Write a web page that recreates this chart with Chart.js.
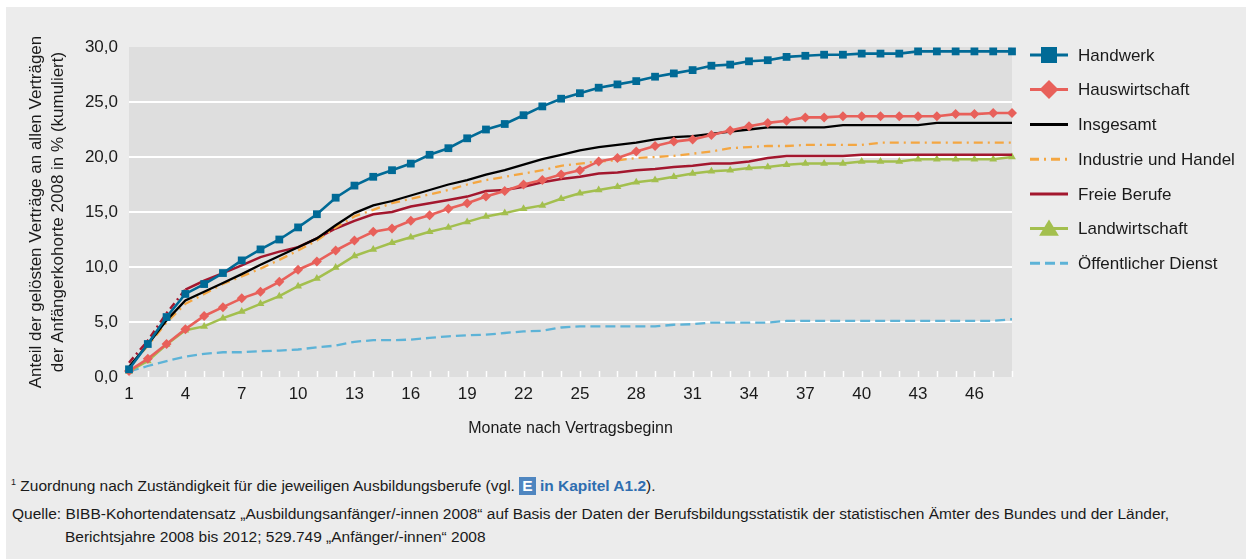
<!DOCTYPE html>
<html>
<head>
<meta charset="utf-8">
<script src="https://cdn.jsdelivr.net/npm/chart.js@4.4.1/dist/chart.umd.min.js"></script>
<style>
  html, body { margin:0; padding:0; background:#ffffff; }
  body { width:1246px; height:559px; position:relative; overflow:hidden; font-family:"Liberation Sans", Arial, sans-serif; color:#1a1a1a; }
  #panel { position:absolute; left:6px; top:7px; width:1240px; height:552px; background:#ececec; }
  #wrap { position:absolute; left:0; top:0; width:1246px; height:450px; }
  .note { position:absolute; font-size:15.5px; white-space:nowrap; line-height:19px; }
  .ebox { display:inline-block; background:#4f86c0; color:#fff; font-weight:bold; padding:0 3px; line-height:18px; }
  .blue { color:#2f6eb0; font-weight:bold; }
</style>
</head>
<body>
<div id="panel"></div>
<div id="wrap"><canvas id="c" width="1246" height="450"></canvas></div>
<div class="note" style="left:11px; top:473px;"><sup style="font-size:9px;">1</sup> Zuordnung nach Zuständigkeit für die jeweiligen Ausbildungsberufe (vgl. <span class="ebox">E</span> <span class="blue">in Kapitel A1.2</span>).</div>
<div class="note" style="left:12px; top:504px;">Quelle: BIBB-Kohortendatensatz „Ausbildungsanfänger/-innen 2008“ auf Basis der Daten der Berufsbildungsstatistik der statistischen Ämter des Bundes und der Länder,</div>
<div class="note" style="left:65px; top:527px;">Berichtsjahre 2008 bis 2012; 529.749 „Anfänger/-innen“ 2008</div>
<script>
const months = [1,2,3,4,5,6,7,8,9,10,11,12,13,14,15,16,17,18,19,20,21,22,23,24,25,26,27,28,29,30,31,32,33,34,35,36,37,38,39,40,41,42,43,44,45,46,47,48];
const yTicks = [0,5,10,15,20,25,30];
const handwerk = [0.7,3.0,5.45,7.55,8.45,9.45,10.6,11.6,12.5,13.6,14.8,16.3,17.4,18.2,18.8,19.4,20.2,20.8,21.7,22.5,23.0,23.8,24.6,25.3,25.8,26.3,26.6,26.9,27.3,27.6,27.9,28.3,28.4,28.7,28.8,29.1,29.2,29.3,29.3,29.4,29.4,29.4,29.6,29.6,29.6,29.6,29.6,29.6];
const hauswirtschaft = [0.55,1.65,3.0,4.35,5.55,6.35,7.15,7.75,8.65,9.75,10.5,11.5,12.4,13.2,13.5,14.2,14.7,15.3,15.8,16.4,16.9,17.5,17.9,18.4,18.8,19.6,19.9,20.5,21.0,21.4,21.6,22.0,22.4,22.8,23.1,23.3,23.6,23.6,23.7,23.7,23.7,23.7,23.7,23.7,23.9,23.9,24.0,24.0];
const insgesamt = [0.9,2.95,5.15,6.95,7.75,8.55,9.35,10.2,11.0,11.8,12.6,13.8,14.9,15.6,16.0,16.5,17.0,17.5,17.9,18.4,18.8,19.3,19.8,20.2,20.6,20.9,21.1,21.3,21.6,21.8,21.9,22.1,22.3,22.5,22.7,22.7,22.7,22.7,22.9,22.9,22.9,22.9,22.9,23.1,23.1,23.1,23.1,23.1];
const industrieHandel = [0.85,2.85,4.95,6.65,7.55,8.45,9.15,9.85,10.65,11.5,12.4,13.6,14.6,15.2,15.8,16.2,16.6,17.0,17.5,17.9,18.2,18.5,18.8,19.2,19.4,19.6,19.7,19.9,20.0,20.1,20.3,20.5,20.8,20.9,21.0,21.0,21.1,21.1,21.1,21.1,21.3,21.3,21.3,21.3,21.3,21.3,21.3,21.3];
const freieBerufe = [1.3,3.3,5.8,7.95,8.75,9.45,10.15,10.9,11.4,11.8,12.6,13.5,14.2,14.8,15.0,15.5,15.8,16.1,16.4,16.9,17.0,17.3,17.7,18.0,18.2,18.5,18.6,18.8,18.9,19.1,19.2,19.4,19.4,19.6,19.9,20.1,20.1,20.1,20.1,20.2,20.2,20.2,20.2,20.2,20.2,20.2,20.2,20.2];
const landwirtschaft = [0.5,1.45,2.95,4.25,4.6,5.35,5.95,6.65,7.35,8.25,8.95,9.95,11.0,11.6,12.2,12.7,13.2,13.6,14.1,14.6,14.9,15.3,15.6,16.2,16.7,17.0,17.3,17.7,17.9,18.2,18.5,18.7,18.8,19.0,19.1,19.3,19.4,19.4,19.4,19.6,19.6,19.6,19.8,19.8,19.8,19.8,19.8,20.0];
const oeffentlicherDienst = [0.5,1.0,1.45,1.85,2.1,2.25,2.25,2.35,2.4,2.5,2.7,2.85,3.2,3.35,3.35,3.4,3.55,3.7,3.8,3.85,4.0,4.15,4.2,4.5,4.6,4.6,4.6,4.6,4.6,4.75,4.8,4.95,4.95,4.95,4.95,5.1,5.1,5.1,5.1,5.1,5.1,5.1,5.1,5.1,5.1,5.1,5.1,5.25];

const seriesNames = ['Handwerk','Hauswirtschaft','Insgesamt','Industrie und Handel','Freie Berufe','Landwirtschaft','Öffentlicher Dienst'];
const C = {
  handwerk:'#006a96', haus:'#e8605a', ins:'#000000', ind:'#f4a641', freie:'#a3172e', land:'#a3bf4e', oeff:'#5db3d7'
};

const FONT = '"Liberation Sans", Arial, sans-serif';

const datasets = [
  {label:seriesNames[0], data:handwerk, borderColor:C.handwerk, backgroundColor:C.handwerk, borderWidth:2.6, pointStyle:'rect', pointRadius:5.5, legendMarker:'rect'},
  {label:seriesNames[1], data:hauswirtschaft, borderColor:C.haus, backgroundColor:C.haus, borderWidth:2.6, pointStyle:'rectRot', pointRadius:5, legendMarker:'rectRot'},
  {label:seriesNames[2], data:insgesamt, borderColor:C.ins, backgroundColor:C.ins, borderWidth:2.3, pointRadius:0},
  {label:seriesNames[3], data:industrieHandel, borderColor:C.ind, backgroundColor:C.ind, borderWidth:2.3, borderDash:[9,5,2,5], pointRadius:0},
  {label:seriesNames[4], data:freieBerufe, borderColor:C.freie, backgroundColor:C.freie, borderWidth:2.5, pointRadius:0,
    segment:{ borderDash: ctx => ctx.p1DataIndex <= 3 ? [7,4,2,4] : undefined }},
  {label:seriesNames[5], data:landwirtschaft, borderColor:C.land, backgroundColor:C.land, borderWidth:2.5, pointStyle:'triangle', pointRadius:4.5, legendMarker:'triangle'},
  {label:seriesNames[6], data:oeffentlicherDienst, borderColor:C.oeff, backgroundColor:C.oeff, borderWidth:2.3, borderDash:[10,5], pointRadius:0}
];
datasets.forEach(d => { d.tension = 0; d.clip = false; d.pointBorderWidth = 0; d.pointHoverRadius = d.pointRadius; });

const bgPlugin = {
  id:'plotBg',
  beforeDraw(chart){
    const {ctx, chartArea:a} = chart;
    ctx.save();
    ctx.fillStyle = '#dedede';
    ctx.fillRect(a.left, a.top, a.right - a.left, a.bottom - a.top);
    ctx.restore();
  },
  beforeDatasetsDraw(chart){
    const {ctx, chartArea:a, scales} = chart;
    const xs = scales.x;
    ctx.save();
    ctx.strokeStyle = '#ffffff';
    ctx.lineWidth = 1.5;
    months.forEach((m, i) => {
      if (i === 0) return;
      const x = Math.round(xs.getPixelForValue(i)) + 0.5;
      ctx.beginPath();
      ctx.moveTo(x, a.bottom);
      ctx.lineTo(x, a.bottom - 6);
      ctx.stroke();
    });
    ctx.restore();
  }
};

function marker(ctx, type, x, y, s, color){
  ctx.fillStyle = color;
  ctx.beginPath();
  if (type === 'rect') {
    ctx.rect(x - s, y - s, 2*s, 2*s);
  } else if (type === 'rectRot') {
    ctx.moveTo(x, y - s); ctx.lineTo(x + s, y); ctx.lineTo(x, y + s); ctx.lineTo(x - s, y); ctx.closePath();
  } else if (type === 'triangle') {
    ctx.moveTo(x, y - s); ctx.lineTo(x + s*1.1, y + s*0.8); ctx.lineTo(x - s*1.1, y + s*0.8); ctx.closePath();
  }
  ctx.fill();
}

const legendPlugin = {
  id:'sideLegend',
  afterDraw(chart){
    const ctx = chart.ctx;
    const ys = [55, 89.5, 124.5, 159.3, 194, 228.5, 263.3];
    ctx.save();
    chart.data.datasets.forEach((d, i) => {
      const y = ys[i];
      ctx.strokeStyle = d.borderColor;
      ctx.lineWidth = 3;
      ctx.setLineDash(d.borderDash ? d.borderDash : []);
      ctx.beginPath();
      ctx.moveTo(1030, y); ctx.lineTo(1068, y);
      ctx.stroke();
      ctx.setLineDash([]);
      if (d.legendMarker) {
        const s = d.legendMarker === 'rect' ? 8 : (d.legendMarker === 'rectRot' ? 9.5 : 9);
        marker(ctx, d.legendMarker, 1049, y, s, d.borderColor);
      }
      ctx.fillStyle = '#1a1a1a';
      ctx.font = '17px ' + FONT;
      ctx.textBaseline = 'middle';
      ctx.textAlign = 'left';
      ctx.fillText(d.label, 1078, y + 1);
    });
    ctx.restore();
  }
};

new Chart(document.getElementById('c'), {
  type:'line',
  data:{ labels: months.map(String), datasets },
  options:{
    responsive:false,
    animation:false,
    events:[],
    layout:{ padding:{ left:0, top:47, right:234, bottom:0 } },
    plugins:{ legend:{display:false}, tooltip:{enabled:false} },
    scales:{
      x:{
        offset:false,
        grid:{ display:false, drawTicks:false },
        border:{ display:false },
        ticks:{
          autoSkip:false, maxRotation:0, padding:7, color:'#1a1a1a',
          font:{ family:FONT, size:17 },
          callback:function(v, i){ return (i % 3 === 0) ? this.getLabelForValue(v) : ''; }
        },
        title:{ display:true, text:'Monate nach Vertragsbeginn', color:'#1a1a1a', font:{ family:FONT, size:16, lineHeight:1.3 }, padding:{ top:0, bottom:11 } },
        afterFit(scale){ scale.height = 73; }
      },
      y:{
        min:0, max:30,
        afterBuildTicks(scale){ scale.ticks = yTicks.map(v => ({value:v})); },
        grid:{ drawTicks:false, lineWidth:2, color: c => (c.tick && (c.tick.value === 0 || c.tick.value === 30)) ? 'rgba(0,0,0,0)' : '#ffffff' },
        border:{ display:false },
        ticks:{ padding:11, color:'#1a1a1a', font:{ family:FONT, size:17 },
          callback: v => Number(v).toFixed(1).replace('.', ',') },
        title:{ display:true, text:['Anteil der gelösten Verträge an allen Verträgen','der Anfängerkohorte 2008 in % (kumuliert)'],
          color:'#1a1a1a', font:{ family:FONT, size:17, lineHeight:1.25 }, padding:{ top:26, bottom:0 } },
        afterFit(scale){ scale.width = 129; }
      }
    }
  },
  plugins:[bgPlugin, legendPlugin]
});
</script>
</body>
</html>
